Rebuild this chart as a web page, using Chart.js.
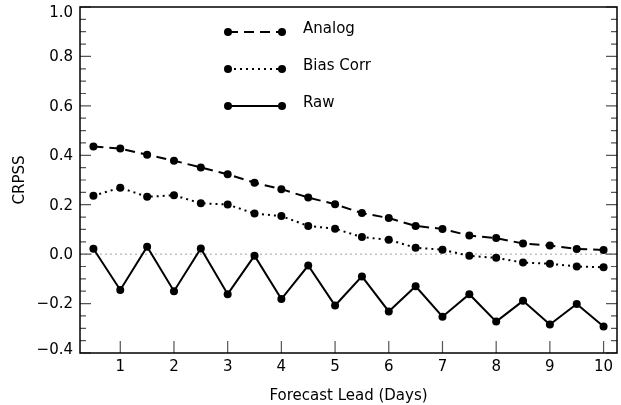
<!DOCTYPE html>
<html>
<head>
<meta charset="utf-8">
<script src="https://cdn.jsdelivr.net/npm/chart.js@4/dist/chart.umd.min.js"></script>
<style>
  body { margin: 0; background: #fff; }
</style>
</head>
<body>
<canvas id="crpss" width="621" height="405"></canvas>
<script>
const leadDays = [0.5, 1, 1.5, 2, 2.5, 3, 3.5, 4, 4.5, 5, 5.5, 6, 6.5, 7, 7.5, 8, 8.5, 9, 9.5, 10];
const analog = [0.436, 0.427, 0.402, 0.378, 0.351, 0.323, 0.289, 0.263, 0.229, 0.202,
  0.166, 0.146, 0.114, 0.102, 0.075, 0.065, 0.043, 0.035, 0.021, 0.017];
const biasCorr = [0.236, 0.269, 0.232, 0.238, 0.206, 0.201, 0.164, 0.154, 0.114, 0.103,
  0.069, 0.058, 0.026, 0.018, -0.007, -0.015, -0.034, -0.039, -0.050, -0.053];
const raw = [0.022, -0.145, 0.030, -0.150, 0.023, -0.162, -0.006, -0.182, -0.046, -0.208,
  -0.090, -0.232, -0.130, -0.253, -0.162, -0.273, -0.189, -0.285, -0.202, -0.293];
const xTicks = [1, 2, 3, 4, 5, 6, 7, 8, 9, 10];
const yTicks = [-0.4, -0.2, 0.0, 0.2, 0.4, 0.6, 0.8, 1.0];
const yMinorStep = 0.05;

const FONT = "'DejaVu Sans', sans-serif";
const toPoints = vals => vals.map((v, i) => ({ x: leadDays[i], y: v }));

const seriesStyle = [
  { label: "Analog", data: analog, dash: [10, 6] },
  { label: "Bias Corr", data: biasCorr, dash: [2, 4] },
  { label: "Raw", data: raw, dash: [] },
];

// frame, inward ticks, y labels, zero line and the drawn legend
const framePlugin = {
  id: "frame",
  beforeDatasetsDraw(chart) {
    const { ctx, chartArea: a, scales } = chart;
    const y0 = scales.y.getPixelForValue(0);
    ctx.save();
    ctx.strokeStyle = "#a0a0a0";
    ctx.lineWidth = 1;
    ctx.setLineDash([2, 3]);
    ctx.beginPath();
    ctx.moveTo(a.left, y0);
    ctx.lineTo(a.right, y0);
    ctx.stroke();
    ctx.restore();
  },
  afterDraw(chart) {
    const { ctx, chartArea: a, scales } = chart;
    ctx.save();

    // ticks
    ctx.strokeStyle = "#555";
    ctx.lineWidth = 1.2;
    ctx.beginPath();
    const n = Math.round((yTicks[yTicks.length - 1] - yTicks[0]) / yMinorStep);
    for (let i = 0; i <= n; i++) {
      const v = yTicks[0] + i * yMinorStep;
      const len = i % 4 === 0 ? 11 : 6;
      const py = scales.y.getPixelForValue(v);
      ctx.moveTo(a.left, py); ctx.lineTo(a.left + len, py);
      ctx.moveTo(a.right, py); ctx.lineTo(a.right - len, py);
    }
    xTicks.forEach(v => {
      const px = scales.x.getPixelForValue(v);
      ctx.moveTo(px, a.bottom); ctx.lineTo(px, a.bottom - 12);
    });
    ctx.stroke();

    ctx.strokeStyle = "#000";
    ctx.lineWidth = 1.5;
    ctx.strokeRect(a.left, a.top, a.right - a.left, a.bottom - a.top);

    // y tick labels, kept inside the frame height like the original
    ctx.fillStyle = "#000";
    ctx.font = "15px " + FONT;
    ctx.textAlign = "right";
    ctx.textBaseline = "middle";
    yTicks.forEach(v => {
      const py = scales.y.getPixelForValue(v) + 1;
      const ly = Math.min(Math.max(py, a.top + 6), a.bottom - 3);
      ctx.fillText(v.toFixed(1).replace("-", "\u2212"), a.left - 7, ly);
    });

    // legend
    const lx0 = 228, lx1 = 282, tx = 303;
    const rows = [32, 69, 106];
    seriesStyle.forEach((s, i) => {
      const ly = rows[i];
      ctx.strokeStyle = "#000";
      ctx.lineWidth = 2;
      ctx.setLineDash(s.dash);
      ctx.beginPath();
      ctx.moveTo(lx0, ly); ctx.lineTo(lx1, ly);
      ctx.stroke();
      ctx.setLineDash([]);
      [lx0, lx1].forEach(px => {
        ctx.beginPath();
        ctx.arc(px, ly, 4, 0, Math.PI * 2);
        ctx.fill();
      });
      ctx.textAlign = "left";
      ctx.textBaseline = "alphabetic";
      ctx.fillText(s.label, tx, ly + 1);
    });
    ctx.restore();
  },
};

new Chart(document.getElementById("crpss"), {
  type: "line",
  data: {
    datasets: seriesStyle.map(s => ({
      label: s.label,
      data: toPoints(s.data),
      borderColor: "#000",
      backgroundColor: "#000",
      borderWidth: 2,
      borderDash: s.dash,
      pointRadius: 4,
      pointBackgroundColor: "#000",
      pointBorderWidth: 0,
      tension: 0,
      clip: false,
    })),
  },
  options: {
    responsive: false,
    animation: false,
    layout: { padding: { top: 7, right: 2, left: 0, bottom: 0 } },
    plugins: { legend: { display: false }, tooltip: { enabled: false } },
    scales: {
      x: {
        type: "linear",
        min: 0.25,
        max: 10.25,
        afterBuildTicks: s => { s.ticks = xTicks.map(v => ({ value: v })); },
        afterFit: s => { s.height = 52; s.paddingLeft = 0; s.paddingRight = 0; },
        grid: { display: false, drawTicks: false },
        border: { display: false },
        ticks: { color: "#000", font: { family: FONT, size: 15 }, padding: 5, autoSkip: false, maxRotation: 0 },
        title: { display: true, text: "Forecast Lead (Days)", color: "#000", font: { family: FONT, size: 15 }, padding: { top: 8, bottom: 0 } },
      },
      y: {
        min: -0.4,
        max: 1.0,
        afterBuildTicks: s => { s.ticks = yTicks.map(v => ({ value: v })); },
        afterFit: s => { s.width = 80; s.paddingTop = 0; s.paddingBottom = 0; },
        grid: { display: false, drawTicks: false },
        border: { display: false },
        ticks: { display: false },
        title: { display: true, text: "CRPSS", color: "#000", font: { family: FONT, size: 15 }, padding: { top: 11, bottom: 0 } },
      },
    },
  },
  plugins: [framePlugin],
});
</script>
</body>
</html>
